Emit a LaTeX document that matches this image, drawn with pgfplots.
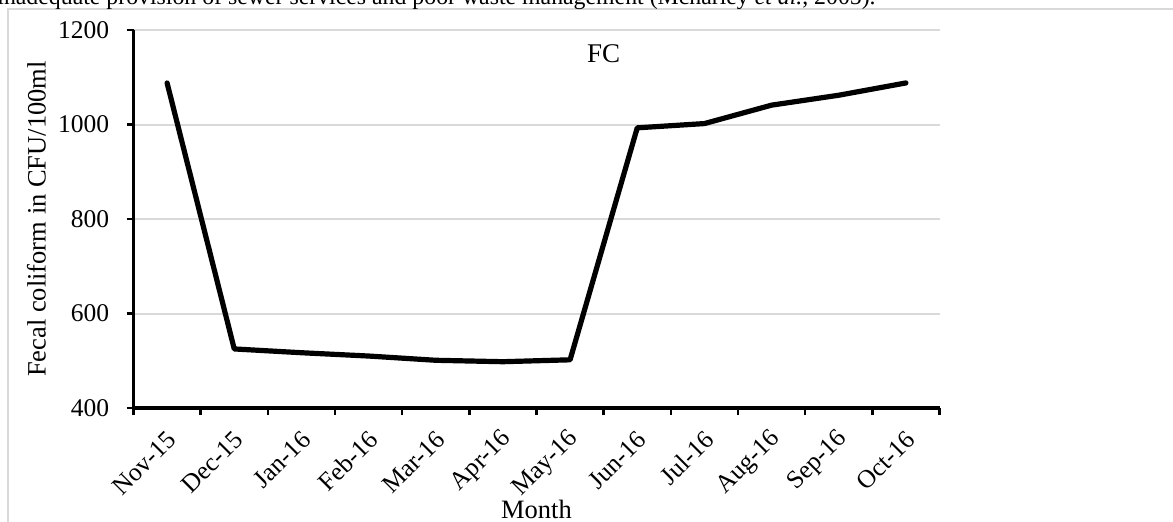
\documentclass[border=0pt]{standalone}
\usepackage{fontspec}
\setmainfont{Liberation Serif}
\usepackage{pgfplots}
\pgfplotsset{compat=1.18}
\definecolor{gridgray}{HTML}{D9D9D9}
\begin{document}
\begin{tikzpicture}
\clip (0,0) rectangle (586.5pt,260.5pt);
\draw[gridgray, line width=0.8pt] (4pt,-10pt) rectangle (600pt,256pt);
\node[anchor=base west, font=\fontsize{11.9}{14}\selectfont, inner sep=0] at (-1.5pt,258.3pt) {inadequate provision of sewer services and poor waste management (Mcharley \textit{et al.}, 2005).};
\begin{axis}[
 at={(66.75pt,56.5pt)}, anchor=south west,
 scale only axis, width=403pt, height=189pt,
 xmin=-0.5, xmax=11.5, ymin=400, ymax=1200,
 axis x line=bottom, axis y line=left,
 axis line style={-, line width=1.8pt, black},
 ytick={400,600,...,1200}, ymajorgrids,
 grid style={gridgray, line width=1pt},
 xtick={-0.5,0.5,...,11.5}, xticklabels={},
 extra x ticks={0,1,2,3,4,5,6,7,8,9,10,11},
 extra x tick labels={Nov-15,Dec-15,Jan-16,Feb-16,Mar-16,Apr-16,May-16,Jun-16,Jul-16,Aug-16,Sep-16,Oct-16},
 extra x tick style={major tick length=0pt},
 tick align=outside, major tick length=3.5pt,
 tick style={black, line width=1.3pt},
 /pgf/number format/assume math mode=true,
 /pgf/number format/1000 sep={},
 ticklabel style={font=\fontsize{12.75}{14}\selectfont},
 xticklabel style={anchor=east, inner sep=0pt, xshift=2.5pt, yshift=-13.5pt, rotate=45},
 yticklabel style={inner sep=0pt, xshift=-8.5pt},
 xlabel={Month}, ylabel={Fecal coliform in CFU/100ml},
 label style={font=\fontsize{13.25}{15}\selectfont},
 xlabel style={at={([yshift=-50.5pt]axis description cs:0.5,0)}, anchor=center},
 ylabel style={at={([xshift=-48.5pt]axis description cs:0,0.5)}, anchor=center, rotate=0},
 clip=false,
]
\addplot[black, line width=2.6pt, line join=round, line cap=round] table[x=x, y=y] {
x y
0 1088
1 525
2 517
3 510
4 501
5 498
6 502
7 993
8 1002
9 1041
10 1062
11 1088
};
\node[font=\fontsize{13.5}{15}\selectfont] at (axis cs:6.5,1149) {FC};
\end{axis}
\end{tikzpicture}
\end{document}
